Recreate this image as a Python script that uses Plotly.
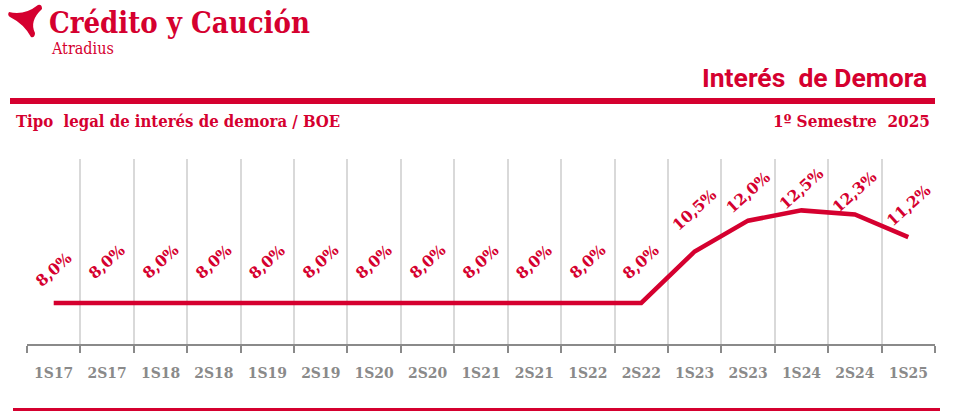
import plotly.graph_objects as go

# ---- data ----
periods = ["1S17", "2S17", "1S18", "2S18", "1S19", "2S19", "1S20", "2S20", "1S21",
           "2S21", "1S22", "2S22", "1S23", "2S23", "1S24", "2S24", "1S25"]
rates = [8.0, 8.0, 8.0, 8.0, 8.0, 8.0, 8.0, 8.0, 8.0, 8.0, 8.0, 8.0, 10.5, 12.0, 12.5, 12.3, 11.2]

title_main = "Interés  de Demora"
subtitle_left = "Tipo  legal de interés de demora / BOE"
subtitle_right = "1º Semestre  2025"
brand = "Crédito y Caución"
brand_sub = "Atradius"

# ---- style ----
RED = "#d5002f"
GRAY = "#8a8a8a"
SERIF = "DejaVu Serif Condensed, DejaVu Serif"
W, H = 955, 419
L, R, T, B = 27, 20, 159, 75
PW, PH = W - L - R, H - T - B

def px(X):
    return (X - L) / PW

def py(Y):
    return (H - B - Y) / PH

label_shift = [33, 41, 41, 41, 41, 41, 41, 41, 41, 41, 41, 41, 42, 28, 22, 23, 32]

fig = go.Figure()
fig.add_trace(go.Scatter(
    x=periods, y=rates, mode="lines",
    line=dict(color=RED, width=4.5),
    hoverinfo="skip", showlegend=False,
))

annotations = []
for i, (p, v) in enumerate(zip(periods, rates)):
    annotations.append(dict(
        x=p, y=v, xref="x", yref="y",
        text=f"{v:.1f}".replace(".", ",") + "%",
        showarrow=False, textangle=-42, yshift=label_shift[i],
        font=dict(family="DejaVu Serif", size=15.5, color=RED, weight="bold"),
    ))

# header texts
annotations += [
    dict(x=px(47), y=py(42), xref="paper", yref="paper", xanchor="left", yanchor="bottom",
         text=f"<b>{brand}</b>", showarrow=False,
         font=dict(family=SERIF, size=29, color=RED)),
    dict(x=px(49), y=py(60), xref="paper", yref="paper", xanchor="left", yanchor="bottom",
         text=brand_sub, showarrow=False,
         font=dict(family=SERIF, size=16, color=RED)),
    dict(x=px(929), y=py(95), xref="paper", yref="paper", xanchor="right", yanchor="bottom",
         text=f"<b>{title_main}</b>", showarrow=False,
         font=dict(family="Roboto", size=26.5, color=RED)),
    dict(x=px(14), y=py(133), xref="paper", yref="paper", xanchor="left", yanchor="bottom",
         text=f"<b>{subtitle_left}</b>", showarrow=False,
         font=dict(family=SERIF, size=16.6, color=RED)),
    dict(x=px(932), y=py(133), xref="paper", yref="paper", xanchor="right", yanchor="bottom",
         text=f"<b>{subtitle_right}</b>", showarrow=False,
         font=dict(family=SERIF, size=17, color=RED)),
]

def P(X, Y):
    return f"{px(X):.5f},{py(Y):.5f}"

logo = (f"M {P(9,12)} Q {P(24,16)} {P(38,5)} Q {P(42,4)} {P(42,9)} "
        f"Q {P(29,21)} {P(35,33)} Q {P(35,38)} {P(31,37)} "
        f"Q {P(24,24)} {P(10,17)} Q {P(7,15)} {P(9,12)} Z")

shapes = [
    dict(type="rect", xref="paper", yref="paper", x0=px(10), x1=px(935), y0=py(104), y1=py(98),
         fillcolor=RED, line=dict(width=0)),
    dict(type="rect", xref="paper", yref="paper", x0=px(13), x1=px(940), y0=py(411), y1=py(408),
         fillcolor=RED, line=dict(width=0)),
    dict(type="path", xref="paper", yref="paper", path=logo, fillcolor=RED,
         line=dict(width=0)),
]

fig.update_layout(
    width=W, height=H,
    margin=dict(l=L, r=R, t=T, b=B),
    paper_bgcolor="white", plot_bgcolor="white",
    annotations=annotations, shapes=shapes,
    showlegend=False,
    xaxis=dict(
        type="category", range=[-0.5, len(periods) - 0.5],
        tickson="boundaries", ticks="outside", ticklen=7, tickwidth=2, tickcolor=GRAY,
        showline=True, linecolor=GRAY, linewidth=2,
        showgrid=True, gridcolor="#d9d9d9", gridwidth=2,
        tickfont=dict(family=SERIF, size=15.5, color=GRAY, weight="bold"),
        ticklabelstandoff=13, fixedrange=True,
    ),
    yaxis=dict(range=[6, 15], visible=False, showgrid=False, zeroline=False, fixedrange=True),
)

fig.write_html("out.html", config={"displayModeBar": False},
               post_script="document.body.style.margin='0';document.body.style.overflow='hidden';")
